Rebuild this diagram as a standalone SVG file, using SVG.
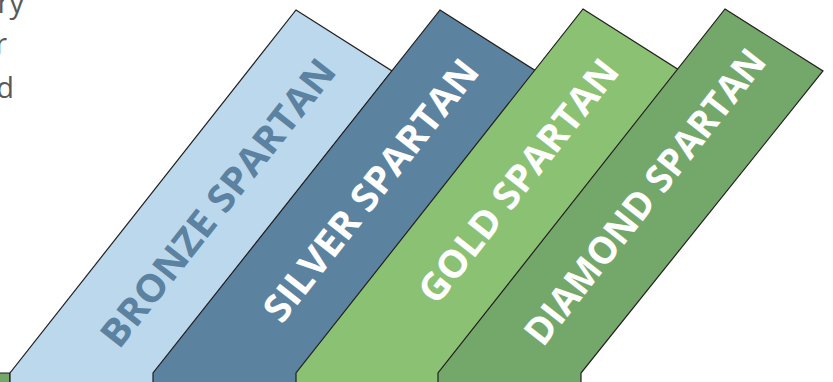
<svg xmlns="http://www.w3.org/2000/svg" width="833" height="382" viewBox="0 0 833 382">
<style>
.band{stroke:#231f20;stroke-width:1.2;stroke-linejoin:miter}
.lbl{font-family:"Open Sans","Liberation Sans",sans-serif;font-weight:700;font-size:38px;text-anchor:end}
.para{font-family:"Open Sans","Liberation Sans",sans-serif;font-weight:400;font-size:29px;fill:#58595b;text-anchor:end}
</style>
<rect width="833" height="382" fill="#ffffff"/>
<g id="paragraph">
<text class="para" x="24" y="13">ry</text>
<text class="para" x="7" y="54">r</text>
<text class="para" x="14" y="98">d</text>
</g>
<g id="edge-block">
<polygon class="band" points="-5,373 10,373 10,390 -5,390" fill="#74a86b"/>
</g>
<g id="bronze">
<polygon class="band" points="296,10 392,71 154,373 154,390 10,390 10,373" fill="#bcd8ec"/>
<text class="lbl" fill="#5b82a0" transform="translate(338,72) rotate(-51.8)" textLength="354" lengthAdjust="spacingAndGlyphs">BRONZE SPARTAN</text>
</g>
<g id="silver">
<polygon class="band" points="440,10 536,71 298,373 298,390 153,390 153,373" fill="#5b829e"/>
<text class="lbl" fill="#ffffff" transform="translate(481,72) rotate(-51.8)" textLength="322" lengthAdjust="spacingAndGlyphs">SILVER SPARTAN</text>
</g>
<g id="gold">
<polygon class="band" points="583,9 679,70 440,373 440,390 296,390 296,373" fill="#8bc173"/>
<text class="lbl" fill="#ffffff" transform="translate(621,72) rotate(-51.8)" textLength="298" lengthAdjust="spacingAndGlyphs">GOLD SPARTAN</text>
</g>
<g id="diamond">
<polygon class="band" points="725,9 823,71 581,373 581,390 438,390 438,373" fill="#74a86b"/>
<text class="lbl" fill="#ffffff" transform="translate(768,62) rotate(-51.8)" textLength="364" lengthAdjust="spacingAndGlyphs">DIAMOND SPARTAN</text>
</g>
<g id="connectors"></g>
</svg>
